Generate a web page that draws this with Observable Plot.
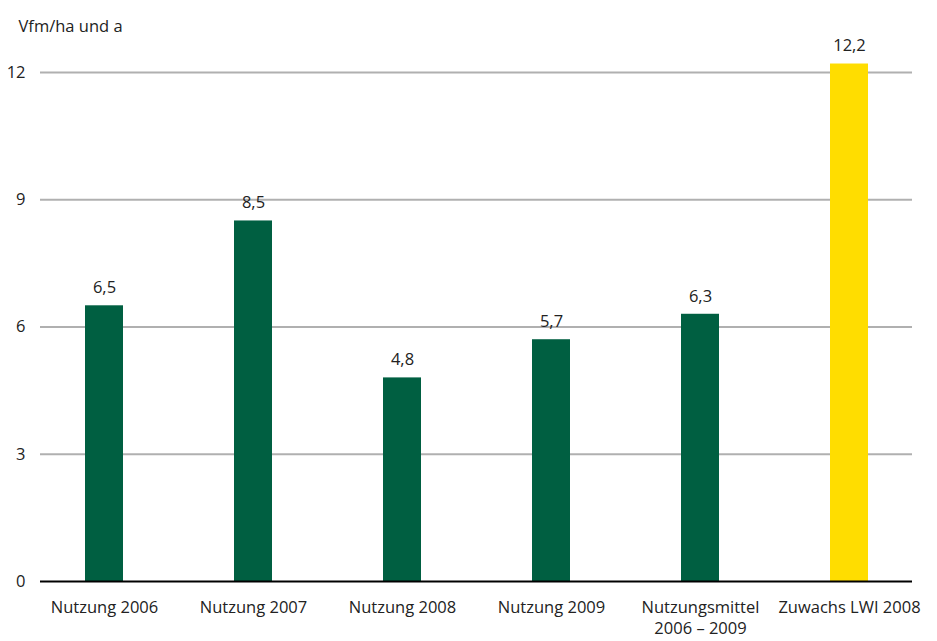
<!DOCTYPE html>
<html><head><meta charset="utf-8">
<script src="https://cdn.jsdelivr.net/npm/d3@7"></script>
<script src="https://cdn.jsdelivr.net/npm/@observablehq/plot@0.6"></script>
<style>body{margin:0;background:#fff;} svg{font-family:"Open Sans",sans-serif;}</style>
</head><body><div id="chart"></div>
<script>
const categories = ["Nutzung 2006", "Nutzung 2007", "Nutzung 2008", "Nutzung 2009", "Nutzungsmittel\n2006 – 2009", "Zuwachs LWI 2008"];
const values = [6.5, 8.5, 4.8, 5.7, 6.3, 12.2];
const groups = ["Nutzung", "Nutzung", "Nutzung", "Nutzung", "Nutzung", "Zuwachs"];
const yTicks = [0, 3, 6, 9, 12];
const yLabel = "Vfm/ha und a";

const data = categories.map((c, i) => ({cat: c, value: values[i], group: groups[i], label: String(values[i]).replace(".", ",")}));

const plot = Plot.plot({
  width: 937,
  height: 641,
  marginTop: 72,
  marginBottom: 60,
  marginLeft: 40,
  marginRight: 25,
  style: {fontSize: "16.5px", color: "#222", fontFamily: "'Open Sans', sans-serif"},
  x: {domain: categories, range: [27, 925], paddingInner: 0.746, paddingOuter: 0.373, axis: null},
  y: {domain: [0, 12], ticks: yTicks, tickSize: 0, tickPadding: 15, label: null, tickFormat: d => String(d)},
  color: {domain: ["Nutzung", "Zuwachs"], range: ["#005f41", "#ffdd00"]},
  marks: [
    Plot.ruleY(yTicks.filter(d => d > 0), {stroke: "#b0b0b0", strokeWidth: 2}),
    Plot.barY(data, {x: "cat", y: "value", fill: "group"}),
    Plot.ruleY([0], {stroke: "#000", strokeWidth: 2}),
    Plot.text(data, {x: "cat", y: "value", text: "label", dy: -18, fill: "#222", fontSize: 16.5}),
    Plot.text(data, {x: "cat", text: "cat", frameAnchor: "bottom", lineAnchor: "top", dy: 16, lineHeight: 1.3, fill: "#222", fontSize: 16.5}),
    Plot.text([yLabel], {text: d => d, frameAnchor: "top-left", textAnchor: "start", dx: -22, dy: -52, fill: "#222", fontSize: 16.5})
  ]
});
document.getElementById("chart").appendChild(plot);
</script></body></html>
